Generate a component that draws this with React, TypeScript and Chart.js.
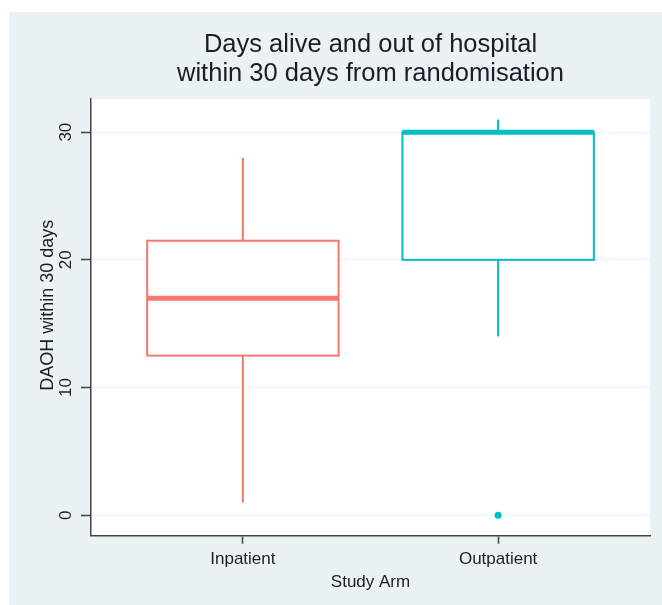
import React, { useEffect, useRef } from "react";
import { Chart, registerables } from "chart.js";

Chart.register(...registerables);

// ---- data ----
const categories = ["Inpatient", "Outpatient"];
const lowerWhisker = [1, 14];
const q1 = [12.5, 20];
const median = [17, 30];
const q3 = [21.5, 30];
const upperWhisker = [28, 31];
const outliers: number[][] = [[], [0]];
const boxColors = ["#F8766D", "#00BFC4"];
const yTicks = [0, 10, 20, 30];
const titleLines = ["Days alive and out of hospital", "within 30 days from randomisation"];
const yTitle = "DAOH within 30 days";
const xTitle = "Study Arm";

const BG = "#EAF2F3";
const AXIS = "#444444";
const TEXT = "#1c1c28";
const FONT = "'Liberation Sans', Arial, sans-serif";

const boxPlugin = {
  id: "boxPlot",
  beforeDraw(chart: any) {
    const { ctx, chartArea } = chart;
    ctx.save();
    ctx.fillStyle = "#ffffff";
    ctx.fillRect(chartArea.left, chartArea.top, chartArea.right - chartArea.left, chartArea.bottom - chartArea.top);
    ctx.restore();
  },
  beforeDatasetsDraw(chart: any) {
    const { ctx } = chart;
    const xs = chart.scales.x;
    const ys = chart.scales.y;
    const half = 0.375;
    categories.forEach((_, i) => {
      const c = i + 1;
      const xc = xs.getPixelForValue(c);
      const xl = xs.getPixelForValue(c - half);
      const xr = xs.getPixelForValue(c + half);
      const yq1 = ys.getPixelForValue(q1[i]);
      const yq3 = ys.getPixelForValue(q3[i]);
      const ymed = ys.getPixelForValue(median[i]);
      const ylo = ys.getPixelForValue(lowerWhisker[i]);
      const yhi = ys.getPixelForValue(upperWhisker[i]);
      ctx.save();
      ctx.strokeStyle = boxColors[i];
      ctx.lineWidth = 2;
      ctx.lineCap = "butt";
      // whiskers
      ctx.beginPath();
      ctx.moveTo(xc, yq3);
      ctx.lineTo(xc, yhi);
      ctx.moveTo(xc, yq1);
      ctx.lineTo(xc, ylo);
      ctx.stroke();
      // box
      ctx.fillStyle = "#ffffff";
      ctx.fillRect(xl, yq3, xr - xl, yq1 - yq3);
      ctx.strokeRect(xl, yq3, xr - xl, yq1 - yq3);
      // median
      ctx.lineWidth = 5;
      ctx.beginPath();
      ctx.moveTo(xl, ymed);
      ctx.lineTo(xr, ymed);
      ctx.stroke();
      ctx.restore();
    });
  },
  afterDraw(chart: any) {
    // y-axis title, placed like the reference (slightly above plot centre)
    const { ctx, chartArea } = chart;
    const ys = chart.scales.y;
    ctx.save();
    ctx.translate(ys.left + 39, (chartArea.top + chartArea.bottom) / 2 - 12);
    ctx.rotate(-Math.PI / 2);
    ctx.fillStyle = TEXT;
    ctx.font = `18px ${FONT}`;
    ctx.textAlign = "center";
    ctx.textBaseline = "middle";
    ctx.fillText(yTitle, 0, 0);
    ctx.restore();
  },
};

export default function App() {
  const ref = useRef<HTMLCanvasElement | null>(null);

  useEffect(() => {
    if (!ref.current) return;
    const outlierPoints: { x: number; y: number }[] = [];
    outliers.forEach((arr, i) => arr.forEach((v) => outlierPoints.push({ x: i + 1, y: v })));
    const chart = new Chart(ref.current, {
      type: "scatter",
      data: {
        datasets: [
          {
            label: "Outliers",
            data: outlierPoints,
            pointRadius: 3.5,
            pointHoverRadius: 3.5,
            borderWidth: 0,
            backgroundColor: outliers.flatMap((arr, i) => arr.map(() => boxColors[i])),
          },
        ],
      },
      options: {
        animation: false,
        responsive: true,
        maintainAspectRatio: false,
        layout: { padding: { left: 0, right: 12, top: 0, bottom: 0 } },
        plugins: {
          legend: { display: false },
          tooltip: { enabled: false },
          title: {
            display: true,
            text: titleLines,
            fullSize: false,
            color: TEXT,
            font: { family: FONT, size: 25.5, weight: "normal", lineHeight: 1.15 },
            padding: { top: 18.3, bottom: 10 },
          },
        },
        scales: {
          x: {
            type: "linear",
            min: 0.405,
            max: 2.595,
            afterBuildTicks: (scale: any) => {
              scale.ticks = categories.map((_, i) => ({ value: i + 1 }));
            },
            afterFit: (scale: any) => {
              scale.height = 69.3;
            },
            ticks: {
              color: TEXT,
              font: { family: FONT, size: 17 },
              padding: 5,
              maxRotation: 0,
              minRotation: 0,
              callback: (v: any) => categories[Math.round(Number(v)) - 1] ?? "",
            },
            grid: {
              drawOnChartArea: false,
              drawTicks: true,
              tickLength: 8,
              tickColor: AXIS,
              tickWidth: 1.5,
            },
            border: { display: true, color: AXIS, width: 1.5 },
            title: {
              display: true,
              text: xTitle,
              color: TEXT,
              font: { family: FONT, size: 17, lineHeight: 1.2 },
              padding: { top: 0, bottom: 12.8 },
            },
          },
          y: {
            type: "linear",
            min: -1.6,
            max: 32.6,
            afterBuildTicks: (scale: any) => {
              scale.ticks = yTicks.map((v) => ({ value: v }));
            },
            afterFit: (scale: any) => {
              scale.width = 82;
            },
            ticks: {
              color: TEXT,
              font: { family: FONT, size: 17 },
              padding: 5,
              minRotation: 90,
              maxRotation: 90,
              crossAlign: "center",
            },
            grid: {
              color: BG,
              lineWidth: 1,
              drawTicks: true,
              tickLength: 10,
              tickColor: AXIS,
              tickWidth: 1.5,
            },
            border: { display: true, color: AXIS, width: 1.5 },
            title: { display: false },
          },
        },
      },
      plugins: [boxPlugin],
    });
    return () => chart.destroy();
  }, []);

  return (
    <div
      style={{
        position: "absolute",
        left: 9,
        top: 12,
        width: 653,
        height: 593,
        background: BG,
      }}
    >
      <canvas ref={ref} />
    </div>
  );
}
